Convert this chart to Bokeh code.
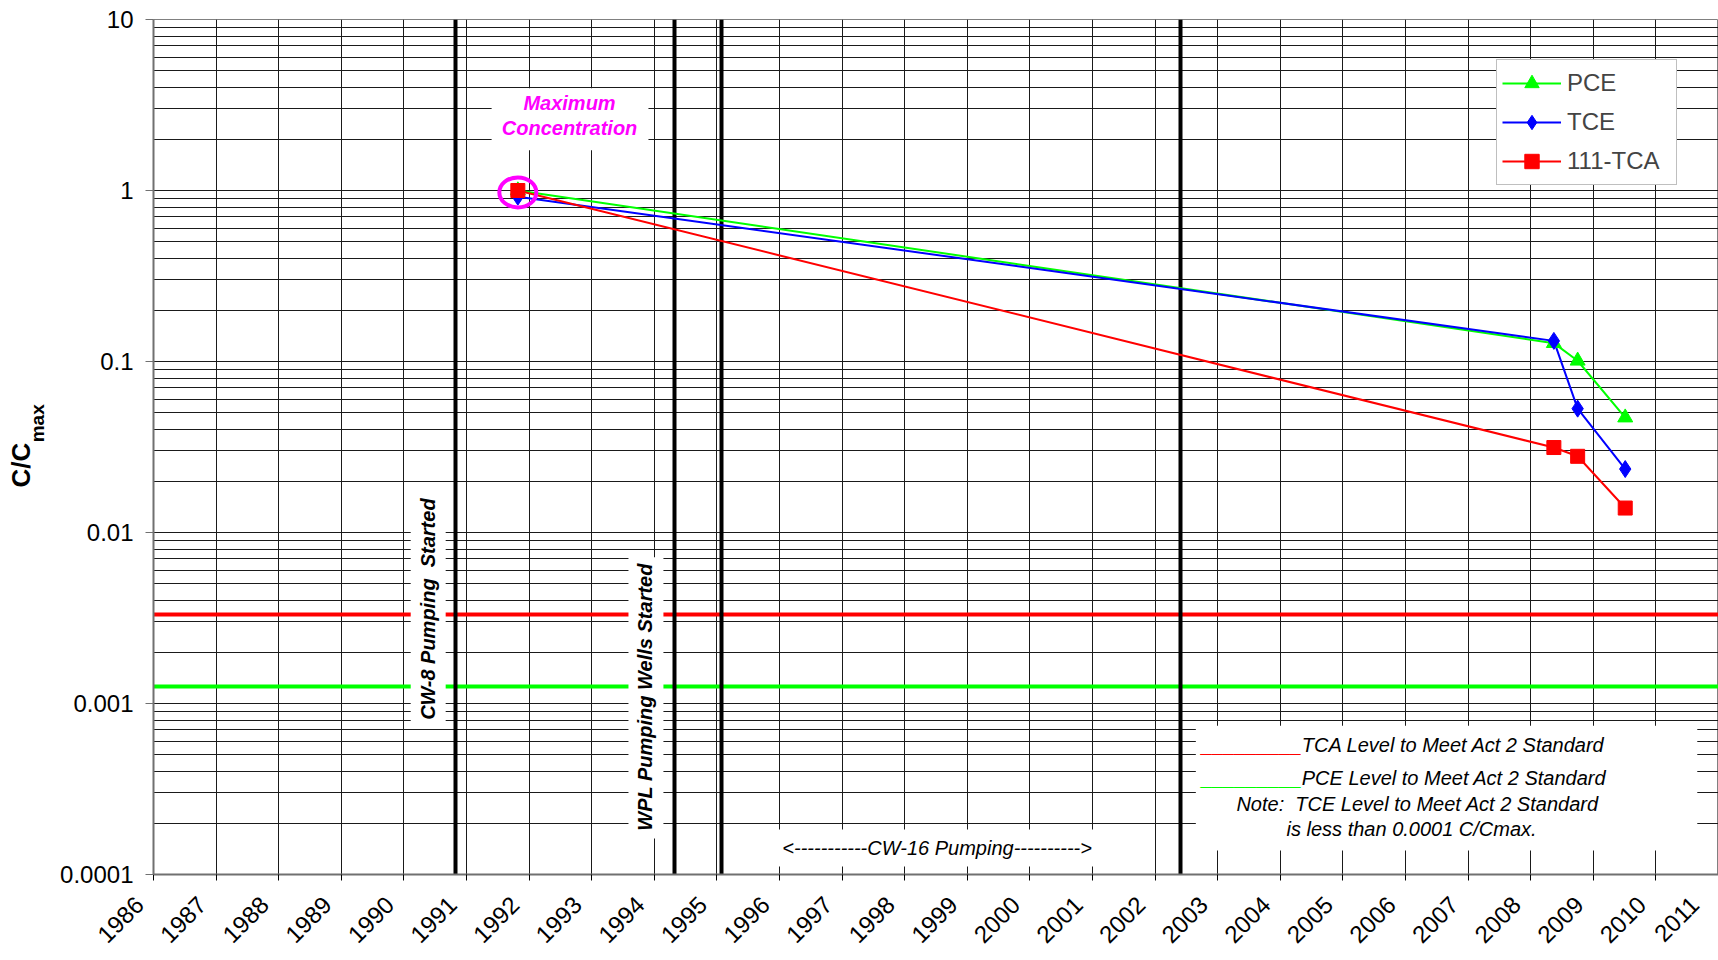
import numpy as np
from bokeh.plotting import figure
from bokeh.models import Range1d, FixedTicker, Label, Legend, LegendItem, LogAxis
from bokeh.embed import file_html
from bokeh.resources import INLINE

# ---------------- data ----------------
sample_years = [1991.82, 2008.37, 2008.75, 2009.51]
pce = [1.0, 0.128, 0.101, 0.047]
tce = [0.92, 0.132, 0.053, 0.0235]
tca = [1.0, 0.0314, 0.0279, 0.0139]

max_conc_year = 1991.82
max_conc_value = 0.975

act2_levels = [0.0033, 0.00126]          # TCA, PCE standard levels
act2_colors = ["#ff0000", "#00ff00"]

event_years = [1990.83, 1994.32, 1995.08, 2002.41]

x_tick_years = list(range(1986, 2012))
x_tick_labels = [str(y) for y in x_tick_years]
y_ticks = [1e-4, 1e-3, 1e-2, 1e-1, 1.0, 10.0]
y_tick_labels = ["0.0001", "0.001", "0.01", "0.1", "1", "10"]
y_minor = [m * 10.0 ** e for e in range(-4, 1) for m in range(2, 10)]

FONT = "Liberation Sans"
NB = "\u00a0"
PAD = NB * 3   # shifts rotated year labels down-left like the original


# reference pixel -> data helpers (for annotation placement)
def rx(px):
    return 1986 + (px - 152.5) / 62.67


def ry(py):
    return 10 ** (1 - (py - 19.0) / 171.4)


p = figure(width=1718, height=960,
           x_range=Range1d(1986, 2011), y_range=Range1d(1e-4, 10),
           y_axis_type="log", output_backend="svg", toolbar_location=None,
           min_border_left=153, min_border_right=0, min_border_top=19,
           min_border_bottom=84)
p.outline_line_color = "#808080"
p.outline_line_width = 1

# x axis
xt = FixedTicker(ticks=x_tick_years)
p.xaxis.ticker = xt
p.xgrid.ticker = xt
p.xaxis.major_label_overrides = {y: lab + PAD for y, lab in zip(x_tick_years, x_tick_labels)}
p.xaxis.major_label_orientation = np.pi / 4
p.xaxis.major_label_text_font = FONT
p.xaxis.major_label_text_font_size = "24px"
p.xaxis.major_label_text_color = "black"
p.xaxis.major_tick_out = 6
p.xaxis.major_tick_in = 0
p.xaxis.minor_tick_line_color = None
p.xaxis.axis_line_color = "#707070"
p.xaxis.axis_line_width = 2
p.xaxis.major_tick_line_color = "black"
p.xaxis.major_label_standoff = 6

# y axis
yt = FixedTicker(ticks=y_ticks, minor_ticks=y_minor)
p.yaxis.ticker = yt
p.ygrid.ticker = yt
p.yaxis.major_label_overrides = dict(zip(y_ticks, y_tick_labels))
p.yaxis.major_label_text_font = FONT
p.yaxis.major_label_text_font_size = "24px"
p.yaxis.major_label_text_color = "black"
p.yaxis.major_tick_out = 8
p.yaxis.major_tick_in = 0
p.yaxis.minor_tick_line_color = None
p.yaxis.axis_line_color = "#707070"
p.yaxis.axis_line_width = 2
p.yaxis.major_tick_line_color = "#707070"
p.yaxis.major_label_standoff = 12
# subscript part of the title "C/C_max" sits on the main axis
p.yaxis.axis_label = NB * 9 + "max"
p.yaxis.axis_label_text_font = FONT
p.yaxis.axis_label_text_font_size = "19px"
p.yaxis.axis_label_text_font_style = "bold"
p.yaxis.axis_label_text_color = "black"
p.yaxis.axis_label_standoff = 9

# outer (label-only) axis carrying "C/C"
title_axis = LogAxis(ticker=FixedTicker(ticks=[]), axis_label="C/C" + NB * 5,
                     axis_line_color=None, major_tick_line_color=None,
                     minor_tick_line_color=None, major_tick_out=0,
                     major_label_standoff=0, axis_label_standoff=-11,
                     axis_label_text_font=FONT, axis_label_text_font_size="26px",
                     axis_label_text_font_style="bold", axis_label_text_color="black")
p.add_layout(title_axis, "left")

p.xgrid.grid_line_color = "#1a1a1a"
p.xgrid.grid_line_width = 1
p.ygrid.grid_line_color = "#1a1a1a"
p.ygrid.grid_line_width = 1
p.ygrid.minor_grid_line_color = "#1a1a1a"
p.ygrid.minor_grid_line_width = 1

# Act 2 standard levels
p.hspan(y=act2_levels, line_color=act2_colors, line_width=4)

# white text boxes (reference pixel boxes: left, right, top, bottom)
boxes = [(491, 648, 88, 150),
         (410, 445, 492, 726),
         (628, 663, 558, 840),
         (768, 1105, 831, 868),
         (1196, 1698, 727, 852)]
p.quad(left=[rx(b[0]) for b in boxes], right=[rx(b[1]) for b in boxes],
       top=[ry(b[2]) for b in boxes], bottom=[ry(b[3]) for b in boxes],
       fill_color="white", line_color=None)

# event lines
p.vspan(x=event_years, line_color="black", line_width=4)

# data
l_pce = p.line(sample_years, pce, line_color="#00ff00", line_width=2)
l_tce = p.line(sample_years, tce, line_color="#0000ff", line_width=2)
l_tca = p.line(sample_years, tca, line_color="#ff0000", line_width=2)
s_pce = p.scatter(sample_years, pce, marker="triangle", size=15,
                  fill_color="#00ff00", line_color="#00ff00")
s_tce = p.scatter(sample_years, tce, marker="diamond", size=17,
                  fill_color="#0000ff", line_color="#0000ff")
s_tca = p.scatter(sample_years, tca, marker="square", size=14,
                  fill_color="#ff0000", line_color="#ff0000")

p.ellipse(x=[max_conc_year], y=[max_conc_value], width=37, height=30,
          width_units="screen", height_units="screen",
          fill_color=None, line_color="#ff00ff", line_width=4)

legend = Legend(items=[LegendItem(label="PCE", renderers=[l_pce, s_pce]),
                       LegendItem(label="TCE", renderers=[l_tce, s_tce]),
                       LegendItem(label="111-TCA", renderers=[l_tca, s_tca])],
                location=(1343, 689))
legend.label_text_font = FONT
legend.label_text_font_size = "24px"
legend.glyph_width = 59
legend.glyph_height = 36
legend.label_height = 36
legend.label_width = 104
legend.spacing = 3
legend.padding = 5
legend.label_standoff = 6
legend.border_line_color = "#808080"
legend.border_line_width = 1.5
legend.background_fill_color = "white"
legend.background_fill_alpha = 1
p.add_layout(legend)


def add_text(txt, px, py, size, style="normal", color="black",
             align="left", angle=0.0):
    p.add_layout(Label(x=rx(px), y=ry(py), text=txt, text_font=FONT,
                       text_font_size=f"{size}px", text_font_style=style,
                       text_color=color, text_align=align,
                       text_baseline="middle", angle=angle))


add_text("Maximum", 569, 103, 20, "bold italic", "#ff00ff", "center")
add_text("Concentration", 569, 128, 20, "bold italic", "#ff00ff", "center")
add_text("CW-8 Pumping" + NB + " Started", 427, 610, 20, "bold italic", "black",
         "center", np.pi / 2)
add_text("WPL Pumping Wells Started", 645, 698, 20, "bold italic", "black",
         "center", np.pi / 2)
add_text("<" + "-" * 11 + "CW-16 Pumping" + "-" * 10 + ">", 937, 849, 20,
         "italic", "black", "center")
add_text("_________", 1202, 746, 20, "italic", "#ff0000")
add_text("TCA Level to Meet Act 2 Standard", 1302, 746, 20, "italic")
add_text("_________", 1202, 779, 20, "italic", "#00ff00")
add_text("PCE Level to Meet Act 2 Standard", 1302, 779, 20, "italic")
add_text("Note:" + NB + " TCE Level to Meet Act 2 Standard", 1418, 805, 20, "italic",
         "black", "center")
add_text("is less than 0.0001 C/Cmax.", 1412, 830, 20, "italic", "black", "center")

open("out.html", "w").write(file_html(p, INLINE))
